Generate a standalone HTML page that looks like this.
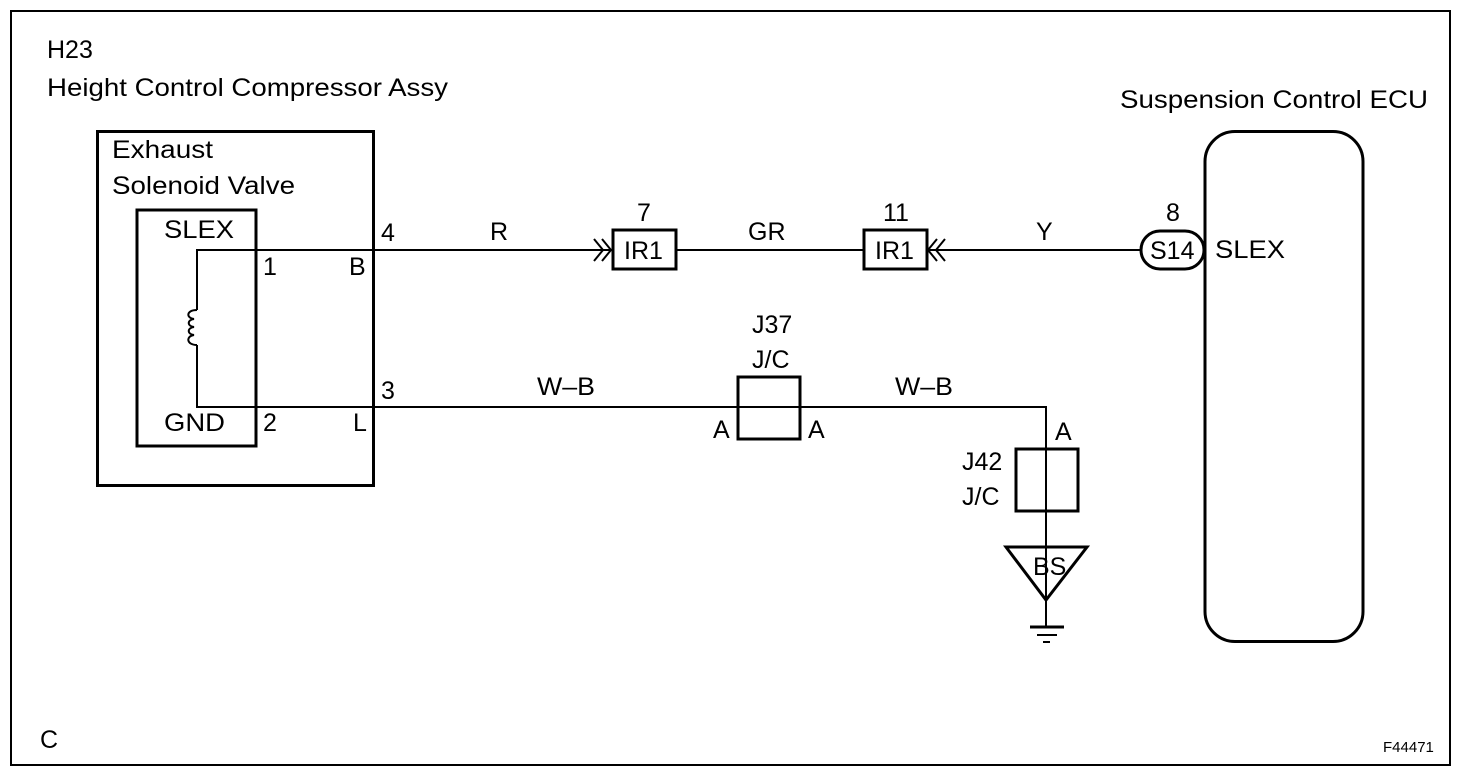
<!DOCTYPE html>
<html><head><style>
html,body{margin:0;padding:0;background:#fff;}
svg{display:block;}
text{font-family:"Liberation Sans",Arial,sans-serif;font-size:25px;fill:#000;}
</style></head><body>
<svg width="1472" height="776" viewBox="0 0 1472 776" xmlns="http://www.w3.org/2000/svg">
<rect x="11" y="11" width="1439" height="754" fill="none" stroke="#000" stroke-width="2"/>
<g fill="none" stroke="#000">
<rect x="97.5" y="131.5" width="276" height="354" stroke-width="3"/>
<rect x="137" y="210" width="119" height="236" stroke-width="3"/>
<rect x="1205" y="131.5" width="158" height="510" rx="30" stroke-width="3"/>
<rect x="613" y="230" width="63" height="39" stroke-width="3"/>
<rect x="864" y="230" width="63" height="39" stroke-width="3"/>
<rect x="738" y="377" width="62" height="62" stroke-width="3"/>
<rect x="1016" y="449" width="62" height="62" stroke-width="3"/>
<rect x="1141" y="231" width="63" height="38" rx="19" stroke-width="3"/>
<path d="M1006 547 L1087 547 L1046 600 Z" stroke-width="3"/>
<g stroke-width="2">
<path d="M197 310 V250 H613"/>
<path d="M676 250 H864"/>
<path d="M927 250 H1141"/>
<path d="M197 345 V407 H1046 V600"/>
<path d="M1046 600 V626"/>
<path d="M594 239 L603 250 L594 261 M602 239 L611 250 L602 261"/>
<path d="M937 239 L928 250 L937 261 M945 239 L936 250 L945 261"/>
<path d="M197 310 C186 310 186 318 194 319 C187 320 187 326 194 327 C187 328 187 334 194 335 C186 336 186 345 197 345"/>
</g>
<path d="M1030 627 H1064" stroke-width="3"/>
<path d="M1037 635 H1057" stroke-width="2"/>
<path d="M1043 642 H1050" stroke-width="2"/>
</g>
<text x="47" y="58">H23</text>
<text x="47" y="96" textLength="401" lengthAdjust="spacingAndGlyphs">Height Control Compressor Assy</text>
<text x="1120" y="108" textLength="308" lengthAdjust="spacingAndGlyphs">Suspension Control ECU</text>
<text x="112" y="158" textLength="101" lengthAdjust="spacingAndGlyphs">Exhaust</text>
<text x="112" y="194" textLength="183" lengthAdjust="spacingAndGlyphs">Solenoid Valve</text>
<text x="164" y="238" textLength="70" lengthAdjust="spacingAndGlyphs">SLEX</text>
<text x="263" y="275">1</text>
<text x="349" y="275">B</text>
<text x="381" y="241">4</text>
<text x="381" y="399">3</text>
<text x="164" y="431" textLength="61" lengthAdjust="spacingAndGlyphs">GND</text>
<text x="263" y="431">2</text>
<text x="353" y="431">L</text>
<text x="490" y="240">R</text>
<text x="637" y="221">7</text>
<text x="624" y="259">IR1</text>
<text x="748" y="240">GR</text>
<text x="883" y="221">11</text>
<text x="875" y="259">IR1</text>
<text x="1036" y="240">Y</text>
<text x="1166" y="221">8</text>
<text x="1150" y="259">S14</text>
<text x="1215" y="258" textLength="70" lengthAdjust="spacingAndGlyphs">SLEX</text>
<text x="752" y="333">J37</text>
<text x="752" y="368">J/C</text>
<text x="537" y="395" textLength="58" lengthAdjust="spacingAndGlyphs">W–B</text>
<text x="895" y="395" textLength="58" lengthAdjust="spacingAndGlyphs">W–B</text>
<text x="713" y="438">A</text>
<text x="808" y="438">A</text>
<text x="1055" y="440">A</text>
<text x="962" y="470">J42</text>
<text x="962" y="505">J/C</text>
<text x="1033" y="575">BS</text>
<text x="40" y="748">C</text>
<text x="1383" y="752" style="font-size:15px">F44471</text>
</svg>
</body></html>
